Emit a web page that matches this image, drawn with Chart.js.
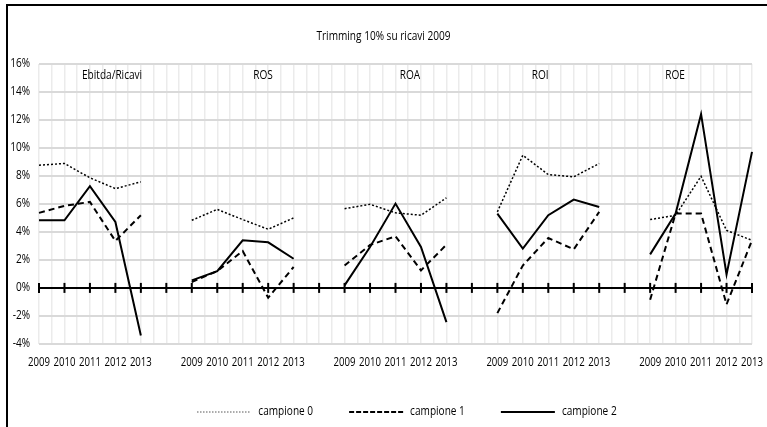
<!DOCTYPE html>
<html>
<head>
<meta charset="utf-8">
<script src="https://cdn.jsdelivr.net/npm/chart.js@4.4.1/dist/chart.umd.min.js"></script>
<style>
  html, body { margin: 0; padding: 0; background: #fff; }
  #wrap { width: 767px; height: 427px; position: relative; }
</style>
</head>
<body>
<div id="wrap"><canvas id="c"></canvas></div>
<script>
// Indicators and years shown in each block
const groups = ['Ebitda/Ricavi', 'ROS', 'ROA', 'ROI', 'ROE'];
const years = ['2009', '2010', '2011', '2012', '2013'];
const seriesNames = ['campione 0', 'campione 1', 'campione 2'];

// Values in %, five years per indicator, in the order of `groups`
const campione0 = [8.75, 8.87, 7.85, 7.08, 7.56,
                   4.82, 5.60, 4.87, 4.18, 4.99,
                   5.65, 5.96, 5.35, 5.18, 6.42,
                   5.42, 9.46, 8.08, 7.92, 8.87,
                   4.87, 5.18, 7.96, 4.10, 3.39];
const campione1 = [5.35, 5.85, 6.13, 3.35, 5.18,
                   0.42, 1.20, 2.63, -0.70, 1.49,
                   1.60, 3.06, 3.68, 1.25, 3.08,
                   -1.80, 1.60, 3.56, 2.75, 5.42,
                   -0.85, 5.30, 5.30, -1.18, 3.39];
const campione2 = [4.82, 4.82, 7.25, 4.70, -3.39,
                   0.54, 1.20, 3.39, 3.25, 2.08,
                   0.18, 2.92, 6.01, 2.92, -2.44,
                   5.30, 2.80, 5.18, 6.30, 5.77,
                   2.39, 5.30, 12.39, 0.96, 9.70];

const yMin = -4, yMax = 16, yStep = 2;
const titleText = 'Trimming 10% su ricavi 2009';

// Category axis: each block of years is followed by one empty slot
const labels = [];
groups.forEach((g, gi) => {
  years.forEach(y => labels.push(y));
  if (gi < groups.length - 1) labels.push('');
});
function spread(values) {
  const out = [];
  groups.forEach((g, gi) => {
    for (let k = 0; k < years.length; k++) out.push(values[gi * years.length + k]);
    if (gi < groups.length - 1) out.push(null);
  });
  return out;
}

// Where each indicator name sits, as a position along the category axis
const groupLabelPos = [2.87, 8.8, 14.57, 19.68, 24.98];

const FONT = '"Open Sans", "Liberation Sans", sans-serif';
const SQUEEZE = 0.84;     // narrow lettering, as in a condensed face
Chart.defaults.font.family = FONT;
Chart.defaults.color = '#000';

const styles = [
  { borderWidth: 1.5, borderDash: [2, 2] },
  { borderWidth: 2, borderDash: [6, 4] },
  { borderWidth: 2, borderDash: [] }
];
const legendDash = [[1, 2], [5, 2], []];

const datasets = [campione0, campione1, campione2].map((vals, i) => ({
  label: seriesNames[i],
  data: spread(vals),
  borderColor: '#000',
  backgroundColor: '#000',
  borderWidth: styles[i].borderWidth,
  borderDash: styles[i].borderDash,
  pointRadius: 0,
  pointHoverRadius: 0,
  tension: 0,
  spanGaps: false,
  fill: false
}));

function narrowText(ctx, text, x, y, align, sx) {
  ctx.save();
  ctx.translate(x, y);
  ctx.scale(sx, 1);
  ctx.textAlign = align;
  ctx.fillText(text, 0, 0);
  ctx.restore();
}

// Zero line with cross ticks, axis lettering, indicator names, legend and frame
const decorations = {
  id: 'decorations',
  beforeDatasetsDraw(chart) {
    const { ctx, chartArea, scales } = chart;
    const y0 = scales.y.getPixelForValue(0);
    ctx.save();
    ctx.strokeStyle = '#000';
    ctx.lineWidth = 2;
    ctx.beginPath();
    ctx.moveTo(chartArea.left, y0);
    ctx.lineTo(chartArea.right, y0);
    ctx.stroke();
    for (let i = 0; i < labels.length; i++) {
      const x = scales.x.getPixelForValue(i);
      ctx.beginPath();
      ctx.moveTo(x, y0 - 5);
      ctx.lineTo(x, y0 + 5);
      ctx.stroke();
    }
    ctx.fillStyle = '#000';
    ctx.font = '12px ' + FONT;
    ctx.textBaseline = 'middle';
    groups.forEach((g, gi) => {
      narrowText(ctx, g, scales.x.getPixelForValue(groupLabelPos[gi]), chartArea.top + 12.5, 'center', SQUEEZE);
    });
    ctx.restore();
  },
  afterDraw(chart) {
    const { ctx, chartArea, scales } = chart;
    ctx.save();
    ctx.fillStyle = '#000';
    ctx.strokeStyle = '#000';
    ctx.font = '12px ' + FONT;
    ctx.textBaseline = 'middle';

    // title
    narrowText(ctx, titleText, chart.width / 2, 37, 'center', SQUEEZE);

    // value axis
    scales.y.ticks.forEach(t => {
      narrowText(ctx, t.value + '%', chartArea.left - 9, scales.y.getPixelForValue(t.value), 'right', SQUEEZE);
    });

    // year axis
    labels.forEach((l, i) => {
      if (l) narrowText(ctx, l, scales.x.getPixelForValue(i), 363, 'center', 0.8);
    });

    // frame
    ctx.lineWidth = 2;
    ctx.strokeRect(7, 5, chart.width + 20, chart.height + 20);

    // legend row
    const ly = 412;
    const sample = 54, gap = 7, between = 36;
    const widths = seriesNames.map(n => sample + gap + ctx.measureText(n).width * SQUEEZE);
    const total = widths.reduce((a, b) => a + b, 0) + between * (widths.length - 1);
    let x = 407 - total / 2;
    seriesNames.forEach((n, i) => {
      ctx.beginPath();
      ctx.setLineDash(legendDash[i]);
      ctx.lineWidth = i === 0 ? 1 : 2;
      ctx.moveTo(x, ly);
      ctx.lineTo(x + sample, ly);
      ctx.stroke();
      ctx.setLineDash([]);
      narrowText(ctx, n, x + sample + gap, ly, 'left', SQUEEZE);
      x += widths[i] + between;
    });
    ctx.restore();
  }
};

new Chart(document.getElementById('c'), {
  type: 'line',
  data: { labels, datasets },
  options: {
    responsive: true,
    maintainAspectRatio: false,
    animation: false,
    events: [],
    layout: { padding: { left: 0, right: 15, top: 63.5, bottom: 0 } },
    plugins: {
      legend: { display: false },
      tooltip: { enabled: false },
      title: { display: false }
    },
    scales: {
      x: {
        type: 'category',
        position: 'bottom',
        grid: { display: false, drawTicks: false },
        border: { display: false },
        ticks: { display: false, autoSkip: false },
        afterFit(s) { s.height = 83; s.paddingLeft = 0; s.paddingRight = 0; }
      },
      xg: {
        type: 'linear',
        position: 'top',
        min: 0,
        max: labels.length - 1,
        grid: { color: '#ebebeb', lineWidth: 1.5, drawTicks: false },
        border: { display: false },
        ticks: { display: false, stepSize: 0.5, maxTicksLimit: 200 },
        afterFit(s) { s.height = 0; }
      },
      y: {
        min: yMin,
        max: yMax,
        grid: { color: '#d9d9d9', lineWidth: 2, drawTicks: false },
        border: { display: false },
        ticks: { display: false, stepSize: yStep },
        afterFit(s) { s.width = 39; s.paddingTop = 0; s.paddingBottom = 0; }
      }
    }
  },
  plugins: [decorations]
});
</script>
</body>
</html>
